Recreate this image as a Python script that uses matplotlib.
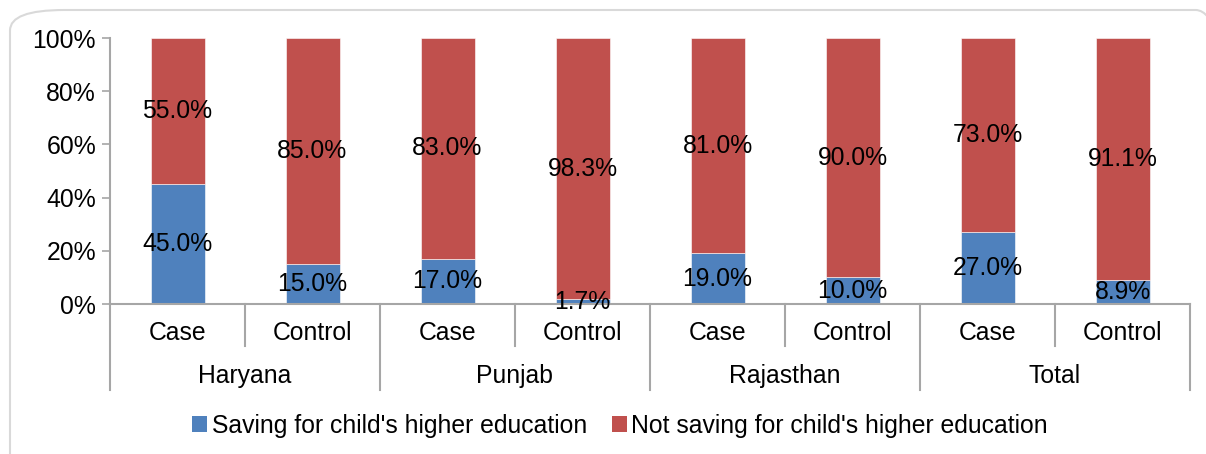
import matplotlib
matplotlib.use("Agg")
import matplotlib.pyplot as plt
from matplotlib.patches import FancyBboxPatch, Patch
from matplotlib.ticker import PercentFormatter, MultipleLocator

# data
states = ["Haryana", "Punjab", "Rajasthan", "Total"]
groups = ["Case", "Control"]
saving = [45.0, 15.0, 17.0, 1.7, 19.0, 10.0, 27.0, 8.9]
not_saving = [55.0, 85.0, 83.0, 98.3, 81.0, 90.0, 73.0, 91.1]
series_names = ["Saving for child's higher education",
                "Not saving for child's higher education"]

blue = "#4F81BD"
red = "#C0504D"
grey = "#A6A6A6"
fs = 17.8

plt.rcParams['font.family'] = ['Liberation Sans', 'DejaVu Sans']

fig = plt.figure(figsize=(12.06, 4.54), dpi=100)
ax = fig.add_axes([110 / 1206, 150 / 454, 1080 / 1206, 266 / 454])

# rounded chart border (only top and left edges visible)
frame = FancyBboxPatch((10 / 1206, -60 / 454), 1240 / 1206, 504 / 454,
                       boxstyle="round,pad=0,rounding_size=0.045",
                       transform=fig.transFigure, facecolor="none",
                       edgecolor="#D9D9D9", linewidth=1.5, zorder=0)
fig.patches.append(frame)

x = list(range(len(saving)))
ax.bar(x, saving, width=0.4, color=blue, edgecolor='white', linewidth=0.4)
ax.bar(x, not_saving, width=0.4, bottom=saving, color=red, edgecolor='white', linewidth=0.4)

for i in x:
    ax.text(i, saving[i] / 2, f"{saving[i]:.1f}%", ha='center', va='center', fontsize=fs)
    ax.text(i, saving[i] + not_saving[i] / 2, f"{not_saving[i]:.1f}%",
            ha='center', va='center', fontsize=fs)

ax.set_xlim(-0.5, len(saving) - 0.5)
ax.set_ylim(0, 100)
ax.yaxis.set_major_locator(MultipleLocator(20))
ax.yaxis.set_major_formatter(PercentFormatter(decimals=0))
ax.tick_params(axis='y', labelsize=fs, color=grey, length=6, width=1.2, pad=4)
ax.set_xticks([])

for s in ['top', 'right']:
    ax.spines[s].set_visible(False)
for s in ['left', 'bottom']:
    ax.spines[s].set_color(grey)
    ax.spines[s].set_linewidth(1.5)

# multi-level category axis
trans = ax.get_xaxis_transform()
h1 = -42 / 266
h2 = -86 / 266
for i in x:
    ax.text(i, -29 / 266, groups[i % 2], transform=trans,
            ha='center', va='center', fontsize=fs)
for i in range(len(saving) + 1):
    bottom = h2 if i % 2 == 0 else h1
    ax.plot([i - 0.5, i - 0.5], [0, bottom], transform=trans, color=grey,
            linewidth=1.5, clip_on=False)
for k, st in enumerate(states):
    ax.text(2 * k + 0.5, -72 / 266, st, transform=trans,
            ha='center', va='center', fontsize=fs)

handles = [Patch(facecolor=blue, label=series_names[0]),
           Patch(facecolor=red, label=series_names[1])]
fig.legend(handles=handles, loc='center', bbox_to_anchor=(620 / 1206, 28 / 454),
           ncol=2, frameon=False, fontsize=fs, handlelength=0.6, handleheight=0.6,
           handletextpad=0.2, columnspacing=1.0)

fig.savefig("out.png", dpi=100)
